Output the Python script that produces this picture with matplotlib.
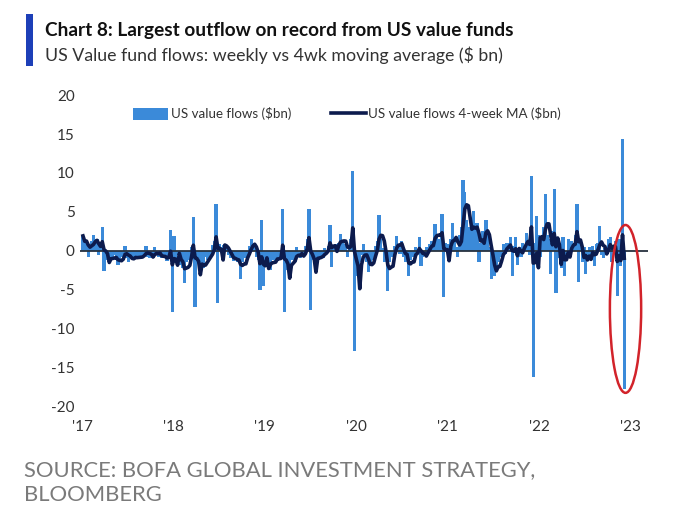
import numpy as np
import pandas as pd
import matplotlib
matplotlib.use("Agg")
import matplotlib.pyplot as plt
import matplotlib.dates as mdates
from matplotlib.patches import Ellipse, Rectangle

plt.rcParams["font.family"] = ["Lato", "DejaVu Sans"]

# weekly US value fund flows ($bn), first week of each year onwards
flows_2017 = [1.9, 0.5, 1.3, -0.8, 0.8, 1.2, 2.0, 0.6, 1.5, -0.5, 0.6, 3.0, -2.6,
              -1.2, -0.8, -1.5, -0.7, -1.0, -0.6, -1.2, -1.9, -1.3, -0.8, -0.4, 0.6, -1.0,
              -1.5, -0.9, -0.6, -1.2, -0.8, -1.0, -0.5, -1.1, -0.7, -0.3, 0.6, -0.8, -1.0,
              -0.6, -0.9, 0.5, -0.4, -0.8, -0.5, -1.0, -0.6, -0.9, -1.3, -0.7, 2.6, -7.9]
flows_2018 = [1.9, -1.0, -0.5, -1.8, -1.2, -2.2, -4.1, -1.5, -0.8, -1.2, 0.5, 4.3, -7.3,
              -1.5, -1.0, -2.6, -1.8, -2.2, -0.8, -1.2, -0.5, -0.8, 0.7, 1.2, 6.0, -6.8,
              0.8, 0.5, 0.7, 0.9, 0.3, -0.5, -1.0, -0.8, -1.3, -0.9, -1.5, -1.1, -3.6,
              -1.4, -0.8, -1.0, -0.5, 0.6, 1.5, 0.8, 0.4, -0.8, -1.2, -5.1, 3.9, -4.6]
flows_2019 = [-2.0, -1.0, -1.6, -2.5, -1.2, -0.8, -1.4, -0.9, -1.1, -0.6, 5.4, -7.9, -1.8,
              -2.5, -2.0, -1.2, -0.8, -1.5, 0.5, -0.6, -1.0, -0.4, -0.8, 0.6, 1.5, 5.4,
              -7.7, -1.2, -0.8, -1.4, -0.6, -1.0, -0.5, -0.9, 0.4, -0.3, 0.6, 3.3, -2.1,
              0.5, 0.8, 0.4, 1.0, 2.2, 1.2, 0.6, 0.9, -0.8, 0.7, 1.5, 10.3, -12.9]
flows_2020 = [-3.2, -2.0, -1.5, -0.6, 0.8, -1.0, -1.4, -2.8, -1.8, -1.2, -0.5, 0.6, 1.2,
              4.6, 1.5, 0.4, -1.5, -1.0, -5.2, -1.5, -0.8, -0.5, 0.6, 1.9, 0.8, -0.4,
              1.3, -0.8, -1.5, -0.9, -3.2, -1.2, -0.6, -0.8, 0.5, -0.4, 1.8, -2.0, -0.8,
              -0.5, 0.5, -0.3, 0.8, 1.2, 0.9, 3.4, 2.2, 1.5, 0.8, 4.7, -6.0, 1.0]
flows_2021 = [0.8, -1.0, 1.5, 3.6, 1.2, 0.5, -0.8, 2.0, 3.0, 9.1, 7.5, 4.0, 2.5,
              3.0, 1.5, 5.1, 2.0, 3.5, -1.5, 1.0, 2.5, 1.8, 3.9, 2.0, 0.5, -3.6,
              -1.0, -3.3, -2.5, -1.5, -0.8, -0.5, 0.8, -0.4, 1.0, 0.5, 1.8, -3.2, 0.6,
              1.8, -1.8, 0.5, -0.8, 1.0, 0.6, 2.3, 0.8, -0.5, 9.6, -16.3, 1.0, 4.5]
flows_2022 = [2.0, -0.8, 1.5, 3.0, 7.3, 2.0, 1.5, -3.0, 2.5, 7.9, -5.4, 1.5, -1.0,
              -2.2, 1.8, -3.3, -1.0, 1.5, -0.5, 1.2, 0.6, 2.0, 6.0, -4.0, 1.5, -1.5,
              0.5, -3.0, -0.8, 0.5, -1.2, 0.6, -2.0, 0.8, 1.0, 3.2, -0.5, -1.0, 0.4,
              -0.6, 1.5, 1.8, -1.5, 0.5, 1.2, -5.8, 1.5, -2.0, 14.4, -17.8]

flows = pd.Series(flows_2017 + flows_2018 + flows_2019 + flows_2020 + flows_2021 + flows_2022)
dates = pd.date_range("2017-01-04", periods=len(flows), freq="7D")
ma4 = flows.rolling(4, min_periods=1).mean()

year_ticks = ["2017", "2018", "2019", "2020", "2021", "2022", "2023"]
year_labels = ["'17", "'18", "'19", "'20", "'21", "'22", "'23"]
y_ticks = [20, 15, 10, 5, 0, -5, -10, -15, -20]

BAR_BLUE = "#3b8ad9"
NAVY = "#0c1b4d"
TEXT = "#333333"

fig = plt.figure(figsize=(6.8, 5.26), dpi=100)
ax = fig.add_axes([0.118, 0.228, 0.835, 0.591])

bars = ax.bar(dates, flows, width=13, color=BAR_BLUE, linewidth=0, zorder=2)
ax.axhline(0, color="#28323f", linewidth=1.3, zorder=3)
line, = ax.plot(dates, ma4, color=NAVY, linewidth=2.6, zorder=4)

# red ring around the latest weeks
last = mdates.date2num(dates[-1])
ax.add_patch(Ellipse((last + 5, -7.5), width=125, height=21.6, fill=False,
                     edgecolor="#d2232a", linewidth=1.8, zorder=5))

ax.set_ylim(-20, 20)
ax.set_xlim(pd.Timestamp("2016-12-24"), pd.Timestamp("2023-03-12"))
ax.set_yticks(y_ticks)
ax.set_yticklabels([str(v) for v in y_ticks])
ax.set_xticks(pd.to_datetime(year_ticks))
ax.set_xticklabels(year_labels)
ax.tick_params(length=0, labelsize=11, colors=TEXT)
ax.tick_params(axis="y", pad=4)
ax.tick_params(axis="x", pad=10)
for s in ax.spines.values():
    s.set_visible(False)

ax.legend([bars, line], ["US value flows ($bn)", "US value flows 4-week MA ($bn)"],
          ncol=2, frameon=False, loc="upper center", bbox_to_anchor=(0.47, 1.0),
          fontsize=9.6, handlelength=2.6, handleheight=1.0, columnspacing=3.0,
          handletextpad=0.2, labelcolor=TEXT)

fig.patches.append(Rectangle((0.038, 0.875), 0.011, 0.098, transform=fig.transFigure,
                             facecolor="#1d3fb8", edgecolor="none"))
fig.text(0.066, 0.942, "Chart 8: Largest outflow on record from US value funds",
         fontsize=13.7, fontweight="bold", color="#111111", va="center")
fig.text(0.066, 0.895, "US Value fund flows: weekly vs 4wk moving average ($ bn)",
         fontsize=12.8, color=TEXT, va="center")
fig.text(0.036, 0.082, "SOURCE: BOFA GLOBAL INVESTMENT STRATEGY,\nBLOOMBERG",
         fontsize=15.8, color="#7a7a7a", va="center", linespacing=1.3)

fig.savefig("out.png", dpi=100)
